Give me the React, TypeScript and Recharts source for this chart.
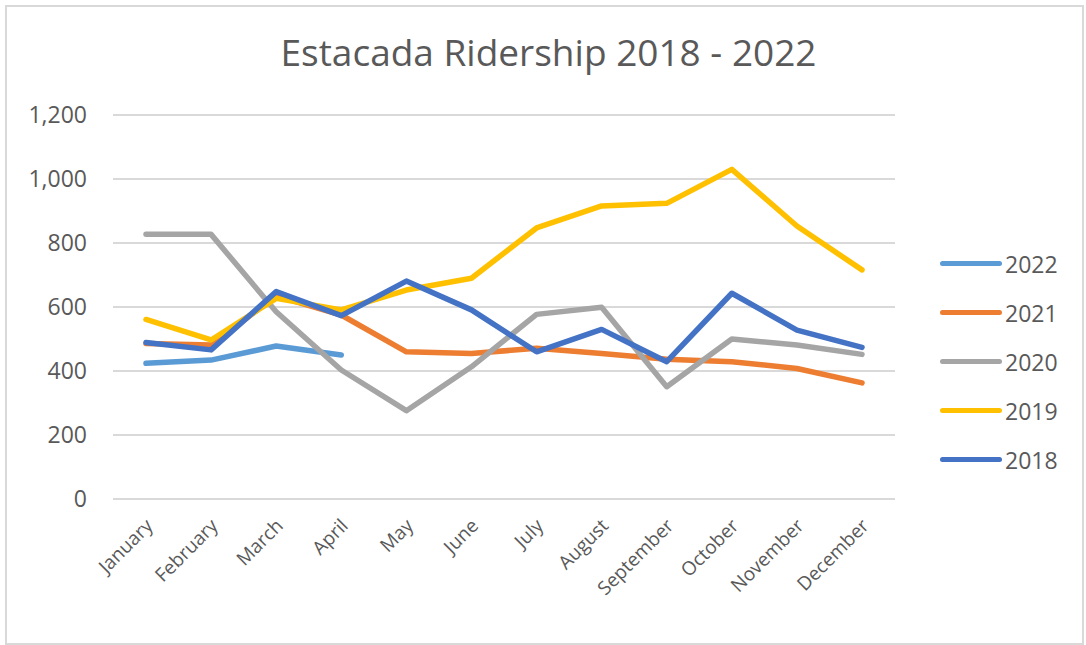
import { LineChart, Line, XAxis, YAxis, CartesianGrid, Legend } from 'recharts';

const months = ['January', 'February', 'March', 'April', 'May', 'June', 'July', 'August', 'September', 'October', 'November', 'December'];

const y2022 = [424, 434, 478, 450, null, null, null, null, null, null, null, null];
const y2021 = [486, 481, 635, 575, 460, 455, 471, 455, 437, 429, 408, 363];
const y2020 = [827, 827, 585, 403, 276, 413, 577, 599, 351, 500, 481, 452];
const y2019 = [561, 497, 627, 591, 653, 690, 847, 916, 924, 1030, 853, 716];
const y2018 = [489, 466, 648, 573, 681, 591, 460, 530, 429, 643, 528, 474];

const yTicks = [0, 200, 400, 600, 800, 1000, 1200];

const series = [
    { key: '2022', values: y2022, color: '#5B9BD5' },
    { key: '2021', values: y2021, color: '#ED7D31' },
    { key: '2020', values: y2020, color: '#A5A5A5' },
    { key: '2019', values: y2019, color: '#FFC000' },
    { key: '2018', values: y2018, color: '#4472C4' },
];

const data = months.map((m, i) => {
    const row: Record<string, string | number | null> = { month: m };
    series.forEach(s => { row[s.key] = s.values[i]; });
    return row;
});

const FONT = '"Open Sans", "Noto Sans", sans-serif';
const GREY_TEXT = '#595959';

const MonthTick = (props: any) => {
    const { x, y, payload } = props;
    const ax = x + 8;
    const ay = y + 20;
    return (
        <text x={ax} y={ay} textAnchor="end" fill={GREY_TEXT} fontSize={19} fontFamily={FONT}
            transform={`rotate(-45, ${ax}, ${ay})`}>
            {payload.value}
        </text>
    );
};

// legend reads 2022 on top, down to 2018
const LegendBox = (props: any) => {
    const items = [...(props.payload || [])].sort((a: any, b: any) => Number(b.value) - Number(a.value));
    return (
        <div>
            {items.map((it: any) => (
                <div key={it.value} style={{ display: 'flex', alignItems: 'center', height: 49 }}>
                    <div style={{ width: 62, height: 5, borderRadius: 3, background: it.color, marginRight: 3 }} />
                    <span style={{ fontFamily: FONT, fontSize: 23, color: GREY_TEXT }}>{it.value}</span>
                </div>
            ))}
        </div>
    );
};

export default function App() {
    return (
        <div style={{ position: 'absolute', left: 0, top: 0, width: 1086, height: 645, background: '#fff' }}>
            <div style={{ position: 'absolute', left: 5, top: 5, width: 1075, height: 636, border: '2px solid #d9d9d9' }} />
            <div style={{
                position: 'absolute', left: 0, top: 26, width: 1097, textAlign: 'center',
                fontFamily: FONT, fontSize: 37, color: GREY_TEXT,
            }}>
                Estacada Ridership 2018 - 2022
            </div>
            <LineChart width={1086} height={645} data={data}
                margin={{ top: 115, right: 71, bottom: 46, left: 13 }}>
                <CartesianGrid vertical={false} stroke="#d9d9d9" strokeWidth={2} />
                <XAxis dataKey="month" axisLine={false} tickLine={false} height={100}
                    interval={0} tick={<MonthTick />} padding={{ left: 33, right: 33 }} />
                <YAxis width={100} domain={[0, 1200]} ticks={yTicks} axisLine={false} tickLine={false}
                    tickMargin={20}
                    tickFormatter={(v: number) => v.toLocaleString('en-US')}
                    tick={{ fill: GREY_TEXT, fontSize: 23, fontFamily: FONT }} />
                <Legend layout="vertical" align="right" verticalAlign="middle" content={<LegendBox />}
                    wrapperStyle={{ position: 'absolute', left: 940, top: 239, width: 120 }} />
                {series.map(s => (
                    <Line key={s.key} dataKey={s.key} name={s.key} stroke={s.color} strokeWidth={5.5}
                        strokeLinecap="round" strokeLinejoin="round" dot={false} activeDot={false}
                        isAnimationActive={false} connectNulls={false} />
                ))}
            </LineChart>
        </div>
    );
}
